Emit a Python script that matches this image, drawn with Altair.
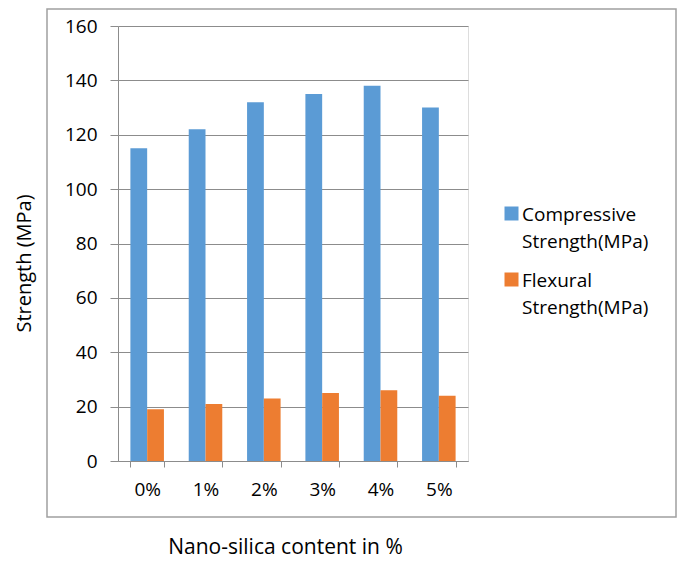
import altair as alt
import pandas as pd

categories = ["0%", "1%", "2%", "3%", "4%", "5%"]
compressive = [115, 122, 132, 135, 138, 130]
flexural = [19, 21, 23, 25, 26, 24]
series = ["Compressive Strength(MPa)", "Flexural Strength(MPa)"]
colors = ["#5B9BD5", "#ED7D31"]
y_ticks = [0, 20, 40, 60, 80, 100, 120, 140, 160]

rows = []
for c, a, b in zip(categories, compressive, flexural):
    rows.append({"cat": c, "series": series[0], "value": a})
    rows.append({"cat": c, "series": series[1], "value": b})
df = pd.DataFrame(rows)

FONT = "Open Sans"
GRAY = "#8c8c8c"

bars = alt.Chart(df).mark_bar().encode(
    x=alt.X(
        "cat:N",
        sort=categories,
        scale=alt.Scale(paddingInner=0.425, paddingOuter=0.2125),
        axis=alt.Axis(
            title="Nano-silica content in %",
            labelAngle=0,
            labelFont=FONT,
            labelFontSize=19,
            labelColor="black",
            labelPadding=13,
            tickBand="extent",
            tickSize=6,
            tickColor=GRAY,
            domainColor=GRAY,
            titleFont=FONT,
            titleFontSize=21,
            titleFontWeight="normal",
            titleColor="black",
            titleX=167,
            titleY=92,
            titleAlign="center",
            titleBaseline="alphabetic",
        ),
    ),
    xOffset=alt.XOffset("series:N", sort=series),
    y=alt.Y(
        "value:Q",
        scale=alt.Scale(domain=[0, 160], nice=False),
        axis=alt.Axis(
            title="Strength (MPa)",
            values=y_ticks,
            labelFont=FONT,
            labelFontSize=19,
            labelColor="black",
            labelPadding=13,
            tickSize=8,
            tickColor=GRAY,
            domainColor=GRAY,
            gridColor=GRAY,
            titleFont=FONT,
            titleFontSize=20,
            titleFontWeight="normal",
            titleColor="black",
            titleAngle=270,
            titleX=-94,
            titleY=237,
            titleAlign="center",
            titleBaseline="middle",
        ),
    ),
    color=alt.Color(
        "series:N",
        scale=alt.Scale(domain=series, range=colors),
        legend=alt.Legend(
            title=None,
            orient="none",
            legendX=384,
            legendY=185,
            labelExpr="split(datum.label, ' ')",
            labelFont=FONT,
            labelFontSize=19,
            labelColor="black",
            labelBaseline="alphabetic",
            labelLimit=300,
            labelOffset=1,
            symbolType="M-1,-2H1V0H-1Z",
            symbolSize=196,
            symbolStrokeWidth=0,
            rowPadding=19,
        ),
    ),
)

box = alt.Chart(pd.DataFrame({"a": [0]})).mark_rect(
    fill="transparent", stroke="#a0a0a0", strokeWidth=1.5
).encode(
    x=alt.value(-71),
    x2=alt.value(558),
    y=alt.value(-17),
    y2=alt.value(491),
)

chart = alt.layer(box, bars).properties(
    width=350,
    height=435,
    autosize=alt.AutoSizeParams(type="none"),
    padding={"left": 110, "top": 18, "right": 209, "bottom": 97},
).configure_view(stroke=None).configure(
    style={"guide-label": {"lineHeight": 27}}
)

chart.save("out.html", embed_options={"renderer": "svg", "actions": False})
